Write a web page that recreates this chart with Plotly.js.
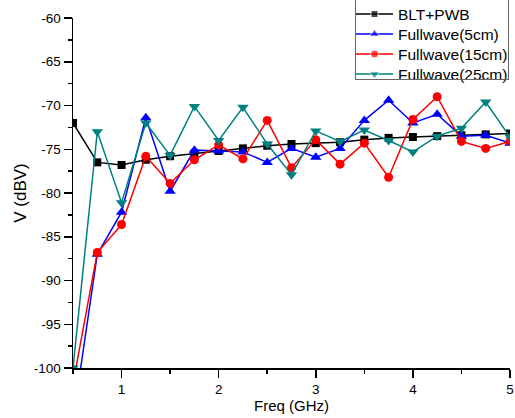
<!DOCTYPE html>
<html><head><meta charset="utf-8">
<script src="https://cdn.plot.ly/plotly-3.0.1.min.js"></script>
<style>
html,body{margin:0;padding:0;background:#fff;overflow:hidden}
#wrap{position:relative;width:515px;height:418px;overflow:hidden}
#c{width:515px;height:418px}
#legbox{position:absolute;left:355px;top:-3px;width:152px;height:81px;border:1px solid #666;pointer-events:none;box-sizing:content-box}
</style>
</head><body><div id="wrap"><div id="c"></div><div id="legbox"></div></div>
<script>
var freq = [0.5,0.75,1,1.25,1.5,1.75,2,2.25,2.5,2.75,3,3.25,3.5,3.75,4,4.25,4.5,4.75,5];
var bltPwb = [-72.0,-76.5,-76.8,-76.2,-75.8,-75.5,-75.2,-74.9,-74.6,-74.4,-74.3,-74.2,-73.9,-73.7,-73.6,-73.5,-73.4,-73.3,-73.2];
var fw5 = [-106,-87.0,-82.2,-71.4,-79.8,-75.1,-75.2,-75.3,-76.5,-74.9,-75.9,-74.9,-71.7,-69.4,-72.0,-71.0,-73.5,-73.4,-74.3];
var fw15 = [-101.8,-86.8,-83.6,-75.8,-78.9,-76.2,-74.5,-76.1,-71.7,-77.1,-73.9,-76.7,-74.3,-78.2,-71.6,-69.0,-74.1,-74.9,-74.1];
var fw25 = [-100,-73.0,-81.1,-72.0,-75.7,-70.1,-74.0,-70.2,-74.4,-77.9,-72.9,-74.1,-72.8,-74.0,-75.3,-73.5,-72.6,-69.6,-73.6];
var names = ['BLT+PWB','Fullwave(5cm)','Fullwave(15cm)','Fullwave(25cm)'];
var xTickVals = [1,2,3,4,5];
var xTickText = ['1','2','3','4','5'];
var yTickVals = [-100,-95,-90,-85,-80,-75,-70,-65,-60];
var yTickText = ['-100','-95','-90','-85','-80','-75','-70','-65','-60'];

var FF = 'Arial, Liberation Sans, sans-serif';
var series = [
  {y: bltPwb, color: '#000000', symbol: 'square', size: 8},
  {y: fw5, color: '#0000ff', symbol: 'triangle-up', size: 10},
  {y: fw15, color: '#ff0000', symbol: 'circle', size: 9},
  {y: fw25, color: '#008080', symbol: 'triangle-down', size: 10}
];

var data = [];
series.forEach(function (s, i) {
  data.push({x: freq, y: s.y, name: names[i], type: 'scatter', mode: 'lines+markers',
    xaxis: 'x', yaxis: 'y',
    line: {color: s.color, width: 1.5},
    marker: {color: s.color, symbol: s.symbol, size: s.size},
    cliponaxis: true, showlegend: false});
});

// hand-built legend samples (own hidden axes, units = pixels inside the box)
var legRowY = [14, 34, 54, 74];
var annotations = [];
series.forEach(function (s, i) {
  data.push({x: [1, 19.5, 38], y: [legRowY[i], legRowY[i], legRowY[i]], type: 'scatter',
    mode: 'lines+markers', xaxis: 'x2', yaxis: 'y2', showlegend: false, hoverinfo: 'skip',
    line: {color: s.color, width: 1.5},
    marker: {color: s.color, symbol: s.symbol, size: [0, s.size - 1, 0]}, cliponaxis: false});
  annotations.push({xref: 'x2', yref: 'y2', x: 41, y: legRowY[i], text: names[i],
    showarrow: false, xanchor: 'left', yanchor: 'middle',
    font: {family: FF, size: 15.5, color: '#000'}});
});

var axFont = {family: FF, size: 13.5, color: '#000'};
var layout = {
  width: 515, height: 418,
  margin: {l: 73, r: 5, t: 0, b: 50, autoexpand: false},
  paper_bgcolor: '#fff', plot_bgcolor: 'rgba(0,0,0,0)',
  showlegend: false,
  font: {family: FF, color: '#000'},
  xaxis: {domain: [0, 1], range: [0.5, 5], tickmode: 'array', tickvals: xTickVals, ticktext: xTickText,
    showgrid: false, zeroline: false, anchor: 'y',
    showline: true, linecolor: '#000', linewidth: 1.5, ticks: 'outside', ticklen: 8, tickwidth: 1.5, tickcolor: '#000',
    minor: {dtick: 0.5, tick0: 0, ticks: 'outside', ticklen: 4, tickwidth: 1.5, tickcolor: '#000', showgrid: false},
    tickfont: axFont,
    title: {text: 'Freq (GHz)', font: {size: 15, family: FF}, standoff: 5}},
  yaxis: {domain: [0, 350 / 368], range: [-100, -60], tickmode: 'array', tickvals: yTickVals, ticktext: yTickText,
    showgrid: false, zeroline: false, anchor: 'x',
    showline: true, linecolor: '#000', linewidth: 1.5, ticks: 'outside', ticklen: 8, tickwidth: 1.5, tickcolor: '#000',
    minor: {dtick: 2.5, tick0: 0, ticks: 'outside', ticklen: 4, tickwidth: 1.5, tickcolor: '#000', showgrid: false},
    tickfont: axFont,
    title: {text: 'V (dBV)', font: {size: 17, family: FF}, standoff: 3}},
  xaxis2: {domain: [(353 - 73) / 437, 1], range: [-2, 155], visible: false, anchor: 'y2', fixedrange: true},
  yaxis2: {domain: [(368 - 82) / 368, 1], range: [82, 0], visible: false, anchor: 'x2', fixedrange: true},
  annotations: annotations
};
Plotly.newPlot('c', data, layout, {displayModeBar: false, staticPlot: true});
</script></body></html>
